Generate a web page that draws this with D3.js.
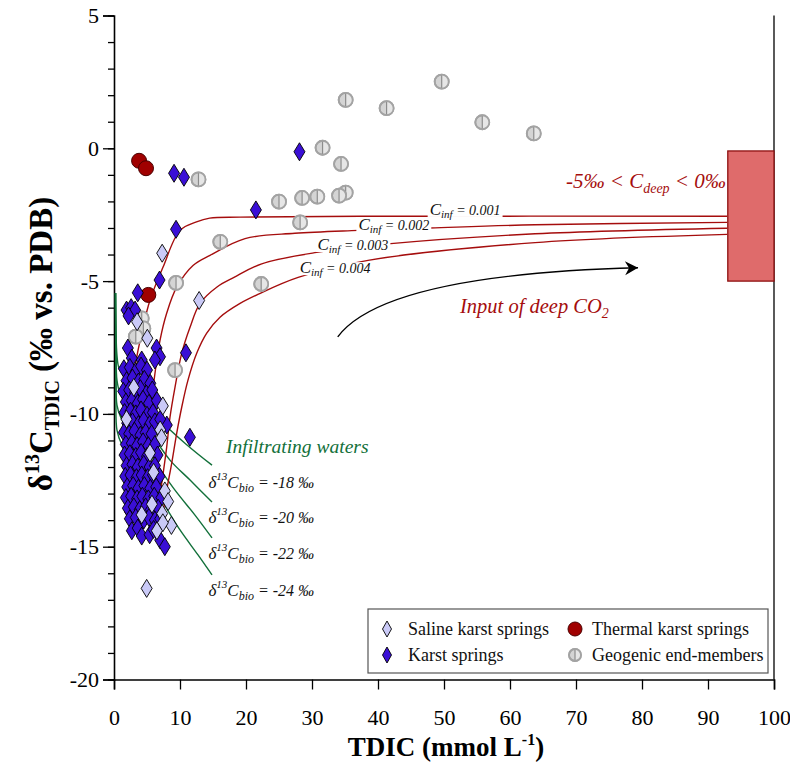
<!DOCTYPE html>
<html>
<head>
<meta charset="utf-8">
<script src="https://cdn.jsdelivr.net/npm/d3@7"></script>
<style>
  html, body { margin: 0; padding: 0; background: #fff; }
  svg { display: block; }
  svg text { font-family: "Liberation Serif", "Times New Roman", serif; }
</style>
</head>
<body>
<svg id="chart" width="790" height="769"></svg>
<script>
// ---- axis ticks ----
const xTicks = [0, 10, 20, 30, 40, 50, 60, 70, 80, 90, 100];
const yTicks = [-20, -15, -10, -5, 0, 5];
const yMinorTicks = d3.range(-20, 6, 1);

// ---- samples: [TDIC mmol/L, d13C permil] ----
const geogenic = [
  [49.65, 2.51], [35.1, 1.82], [41.3, 1.51], [55.8, 0.98], [63.6, 0.56],
  [31.6, 0.02], [34.4, -0.59], [12.8, -1.17], [35.1, -1.67], [34.1, -1.78],
  [30.8, -1.82], [28.5, -1.87], [25.0, -2.01], [28.2, -2.79], [16.1, -3.52],
  [9.4, -5.07], [22.3, -5.11], [4.2, -6.4], [4.45, -6.78], [3.3, -7.09], [9.25, -8.35]
];
const thermal = [[3.8, -0.47], [4.85, -0.75], [5.2, -5.52], [2.7, -13.6]];
const karst = [
  [28.1, -0.13], [9.1, -0.94], [10.6, -1.09], [21.5, -2.32], [9.4, -3.05],
  [6.9, -4.96], [3.6, -5.44], [1.9, -6.09], [2.6, -6.0], [3.2, -6.09], [2.2, -6.31],
  [10.9, -7.7], [11.5, -10.88], [8.0, -10.42],
  [2.1, -7.52], [4.2, -7.97], [2.7, -7.9], [6.45, -7.52], [6.97, -7.85], [6.2, -7.97],
  [1.5, -8.3], [2.4, -8.25], [3.3, -8.4], [4.1, -8.2], [5.0, -8.35],
  [1.9, -8.75], [2.8, -8.65], [3.7, -8.8], [4.6, -8.7], [5.5, -8.85],
  [1.4, -9.15], [2.3, -9.1], [3.2, -9.2], [4.0, -9.05], [4.9, -9.25], [5.8, -9.1],
  [1.8, -9.55], [2.7, -9.5], [3.6, -9.6], [4.4, -9.45], [5.3, -9.6], [6.5, -9.5],
  [1.6, -9.95], [2.5, -9.9], [3.3, -10.0], [4.1, -9.85], [5.0, -10.05], [5.9, -9.95],
  [2.0, -10.35], [2.8, -10.3], [3.7, -10.4], [4.5, -10.25], [5.4, -10.4], [6.2, -10.3], [7.0, -10.2],
  [1.5, -10.7], [2.3, -10.75], [3.1, -10.65], [4.0, -10.8], [4.8, -10.7], [5.7, -10.75],
  [1.8, -11.15], [2.7, -11.1], [3.5, -11.2], [4.4, -11.05], [5.2, -11.2], [6.2, -11.15],
  [1.6, -11.55], [2.4, -11.5], [3.3, -11.6], [4.1, -11.45], [5.0, -11.6], [6.6, -11.55],
  [1.9, -11.95], [2.8, -11.9], [3.6, -12.0], [4.5, -11.9], [5.4, -12.0], [6.2, -11.95],
  [1.7, -12.35], [2.5, -12.3], [3.4, -12.4], [4.2, -12.3], [5.1, -12.4], [5.9, -12.3], [6.9, -12.35],
  [2.0, -12.75], [2.9, -12.7], [3.7, -12.8], [4.6, -12.7], [5.5, -12.8], [6.4, -12.75],
  [1.8, -13.15], [2.6, -13.1], [3.5, -13.2], [4.3, -13.1], [5.2, -13.2], [6.1, -13.1], [7.2, -13.15],
  [2.1, -13.55], [3.0, -13.5], [3.9, -13.6], [4.8, -13.5], [5.6, -13.6], [6.7, -13.55],
  [2.4, -13.95], [3.3, -13.9], [4.5, -14.0], [5.3, -13.9], [6.2, -14.0], [7.0, -13.95],
  [2.7, -14.4], [3.6, -14.3], [4.2, -14.6], [5.4, -14.55], [6.0, -14.35], [7.0, -14.75], [7.7, -15.0]
];
const saline = [
  [7.3, -3.95], [12.9, -5.73], [3.5, -6.53], [5.05, -7.15], [4.95, -16.57],
  [3.0, -9.0], [7.4, -9.7], [1.9, -10.2], [7.0, -10.6], [7.2, -10.9], [5.45, -11.47],
  [6.0, -12.2], [7.7, -12.9], [8.2, -13.3], [5.75, -13.4], [7.3, -13.75], [4.2, -13.8],
  [8.7, -14.2], [7.4, -14.1], [6.5, -14.4]
];

// ---- mixing curves with deep CO2 (Cinf) ----
const cinfLabels = ["0.001", "0.002", "0.003", "0.004"];
const cinf1 = [[1.92, -11.67], [2.02, -10.73], [2.42, -9.49], [3.18, -8.21], [4.2, -6.96], [5.45, -5.72],
  [7.42, -4.48], [10.0, -3.09], [12.5, -2.77], [14.5, -2.63], [19.1, -2.59], [37.3, -2.56], [92.9, -2.56]];
const cinf2 = [[4.7, -13.63], [4.8, -11.37], [5.15, -10.5], [5.71, -9.49], [6.21, -8.47], [6.97, -7.23],
  [7.98, -6.21], [9.5, -5.23], [11.97, -4.41], [14.55, -4.03], [19.85, -3.4], [27.4, -3.2],
  [37.0, -3.09], [47.9, -3.0], [63.8, -2.88], [92.9, -2.79]];
const cinf3 = [[6.97, -13.06], [7.98, -11.26], [8.48, -10.13], [9.24, -9.0], [10.26, -7.72], [11.52, -6.74],
  [13.03, -5.84], [15.56, -5.23], [18.18, -4.86], [22.38, -4.35], [30.7, -3.92], [41.5, -3.6],
  [63.8, -3.22], [92.9, -3.01]];
const cinf4 = [[7.42, -13.74], [7.98, -12.88], [8.74, -11.86], [9.5, -10.73], [10.26, -9.75], [11.21, -8.73],
  [12.53, -7.72], [14.05, -6.96], [16.06, -6.36], [19.1, -5.84], [21.8, -5.5], [27.9, -4.86],
  [38.5, -4.22], [63.8, -3.55], [92.9, -3.24]];
const cinfCurves = [cinf1, cinf2, cinf3, cinf4];
// label centre x and baseline y
const cinfLabelAt = [[53.2, -2.51], [42.4, -3.08], [36.2, -3.83], [33.5, -4.7]];

// ---- infiltration curves (d13C of biogenic CO2) ----
const bioLabels = ["-18", "-20", "-22", "-24"];
const bio18 = [[0.23, -5.45], [0.3, -6.85], [0.45, -7.79], [0.76, -8.28], [1.82, -8.66], [3.94, -9.3],
  [6.97, -10.23], [11.06, -11.17], [14.85, -11.93]];
const bio20 = [[0.23, -5.45], [0.3, -7.6], [0.45, -8.73], [0.91, -9.22], [2.12, -9.66], [4.7, -10.42],
  [8.48, -11.74], [11.52, -12.49], [14.85, -13.32]];
const bio22 = [[0.23, -5.45], [0.3, -8.36], [0.45, -9.67], [1.06, -10.15], [2.42, -10.61], [5.45, -11.55],
  [9.24, -12.87], [12.27, -13.81], [14.85, -14.67]];
const bio24 = [[0.23, -5.45], [0.3, -9.1], [0.45, -10.61], [1.21, -11.17], [2.73, -11.74], [6.21, -12.87],
  [10.0, -14.37], [12.73, -15.31], [14.85, -16.06]];
const bioCurves = [bio18, bio20, bio22, bio24];
const bioLabelAt = [[14.3, -12.8], [14.3, -14.1], [14.3, -15.45], [14.3, -16.85]];

// ---- deep CO2 end-member range ----
const deepX = [93, 100];
const deepY = [-5, -0.1];
const deepArrow = [[33.9, -7.1], [41, -4.75], [79.4, -4.5]];

// ---- layout ----
const svg = d3.select("#chart");
const x = d3.scaleLinear().domain([0, 100]).range([114, 774]);
const y = d3.scaleLinear().domain([-20, 5]).range([679.5, 15.5]);

const darkRed = "#a50d0d";
const green = "#12703a";
const serif = '"Liberation Serif", "Times New Roman", serif';

// axes
const gx = svg.append("g").attr("transform", `translate(0,${y(-20)})`)
  .call(d3.axisBottom(x).tickValues(xTicks).tickSize(10).tickPadding(20).tickFormat(d => String(d)));
const gyMinor = svg.append("g").attr("transform", `translate(${x(0)},0)`)
  .call(d3.axisLeft(y).tickValues(yMinorTicks).tickSize(6).tickFormat(""));
const gy = svg.append("g").attr("transform", `translate(${x(0)},0)`)
  .call(d3.axisLeft(y).tickValues(yTicks).tickSize(11).tickPadding(4).tickFormat(d => String(d)));
[gx, gy, gyMinor].forEach(g => {
  g.attr("font-family", serif).attr("font-size", 22);
  g.select(".domain").attr("stroke", "#000").attr("stroke-width", 1.6);
  g.selectAll(".tick line").attr("stroke", "#000").attr("stroke-width", 1.3);
  g.selectAll("text").attr("font-family", serif).style("font-family", serif)
    .style("font-size", "22px").attr("fill", "#000");
});
gyMinor.select(".domain").remove();
// right frame line
svg.append("line").attr("x1", x(100)).attr("x2", x(100)).attr("y1", y(5)).attr("y2", y(-20))
  .attr("stroke", "#000").attr("stroke-width", 1.3);

// axis titles
svg.append("text").attr("x", 446).attr("y", 756).attr("text-anchor", "middle")
  .attr("font-size", 27).attr("font-weight", "bold")
  .call(t => {
    t.append("tspan").text("TDIC (mmol L");
    t.append("tspan").attr("font-size", 16).attr("dy", -11).text("-1");
    t.append("tspan").attr("dy", 11).text(")");
  });
svg.append("text").attr("transform", "translate(52,344) rotate(-90)").attr("text-anchor", "middle")
  .attr("font-size", 33).attr("font-weight", "bold")
  .call(t => {
    t.append("tspan").text("δ");
    t.append("tspan").attr("font-size", 20).attr("dy", -13).text("13");
    t.append("tspan").attr("dy", 13).text("C");
    t.append("tspan").attr("font-size", 20).attr("dy", 7).text("TDIC");
    t.append("tspan").attr("dy", -7).text(" (‰ vs. PDB)");
  });

const line = d3.line().x(d => x(d[0])).y(d => y(d[1])).curve(d3.curveCatmullRom.alpha(0.5));

// infiltration curves
svg.append("g").selectAll("path").data(bioCurves).join("path")
  .attr("d", line).attr("fill", "none").attr("stroke", green).attr("stroke-width", 1.4);

// deep CO2 mixing curves
svg.append("g").selectAll("path").data(cinfCurves).join("path")
  .attr("d", line).attr("fill", "none").attr("stroke", darkRed).attr("stroke-width", 1.4);

// deep CO2 box
svg.append("rect").attr("x", x(deepX[0])).attr("y", y(deepY[1]))
  .attr("width", x(deepX[1]) - x(deepX[0])).attr("height", y(deepY[0]) - y(deepY[1]))
  .attr("fill", "#df6b6b").attr("stroke", "#8e1010").attr("stroke-width", 1.3);

// Cinf labels: white backing first (interrupts the curves), text on top
const cinfBack = svg.append("g");
const cinfText = svg.append("g");
cinfLabels.forEach((lab, i) => {
  const t = cinfText.append("text").attr("x", x(cinfLabelAt[i][0])).attr("y", y(cinfLabelAt[i][1]))
    .attr("text-anchor", "middle").attr("font-size", 14).attr("font-style", "italic").attr("fill", "#111");
  t.append("tspan").attr("font-size", 17).text("C");
  t.append("tspan").attr("font-size", 11).attr("dy", 3).text("inf");
  t.append("tspan").attr("dy", -3).text(" = " + lab);
  const b = t.node().getBBox();
  cinfBack.append("rect").attr("x", b.x - 2).attr("y", b.y + 4).attr("width", b.width + 4)
    .attr("height", b.height - 7).attr("fill", "#fff");
});

// arrow for deep CO2 input
svg.append("defs").append("marker").attr("id", "arrowhead")
  .attr("viewBox", "-14 -8 16 16").attr("refX", 0).attr("refY", 0)
  .attr("markerWidth", 16).attr("markerHeight", 16).attr("markerUnits", "userSpaceOnUse")
  .attr("orient", "auto")
  .append("path").attr("d", "M0,0 L-13,-7 L-9,0 L-13,7 Z").attr("fill", "#000");
const ap = d3.path();
ap.moveTo(x(deepArrow[0][0]), y(deepArrow[0][1]));
ap.quadraticCurveTo(x(deepArrow[1][0]), y(deepArrow[1][1]), x(deepArrow[2][0]), y(deepArrow[2][1]));
svg.append("path").attr("d", ap.toString()).attr("fill", "none").attr("stroke", "#000")
  .attr("stroke-width", 1.4).attr("marker-end", "url(#arrowhead)");

// annotations
svg.append("text").attr("x", 460).attr("y", 313).attr("font-size", 20.5).attr("font-style", "italic")
  .attr("fill", darkRed)
  .call(t => {
    t.append("tspan").text("Input of deep CO");
    t.append("tspan").attr("font-size", 14).attr("dy", 5).text("2");
  });
svg.append("text").attr("x", 566).attr("y", 188).attr("font-size", 21).attr("font-style", "italic")
  .attr("fill", darkRed)
  .call(t => {
    t.append("tspan").text("-5‰ < C");
    t.append("tspan").attr("font-size", 14).attr("dy", 5).text("deep");
    t.append("tspan").attr("dy", -5).text(" < 0‰");
  });
svg.append("text").attr("x", 226).attr("y", 453).attr("font-size", 19.5).attr("font-style", "italic")
  .attr("fill", green).text("Infiltrating waters");

bioLabels.forEach((lab, i) => {
  const t = svg.append("text").attr("x", x(bioLabelAt[i][0])).attr("y", y(bioLabelAt[i][1]))
    .attr("font-size", 16).attr("font-style", "italic").attr("fill", "#111");
  t.append("tspan").attr("font-size", 17).text("δ");
  t.append("tspan").attr("font-size", 11).attr("dy", -8).text("13");
  t.append("tspan").attr("font-size", 17).attr("dy", 8).text("C");
  t.append("tspan").attr("font-size", 12).attr("dy", 4).text("bio");
  t.append("tspan").attr("dy", -4).text(" = " + lab + " ‰");
});

// ---- markers ----
const diamond = (cx, cy, w, h) => `M${cx},${cy - h}L${cx + w},${cy}L${cx},${cy + h}L${cx - w},${cy}Z`;

function geoMarker(g, cx, cy, r) {
  g.append("circle").attr("cx", cx).attr("cy", cy).attr("r", r)
    .attr("fill", "#d4d4d4").attr("stroke", "#a3a3a3").attr("stroke-width", 1.8);
  g.append("path").attr("d", `M${cx},${cy - r}A${r},${r} 0 0,1 ${cx},${cy + r}Z`)
    .attr("fill", "#e6e6e6").attr("stroke", "none");
  g.append("line").attr("x1", cx).attr("x2", cx).attr("y1", cy - r).attr("y2", cy + r)
    .attr("stroke", "#8c8c8c").attr("stroke-width", 1.2);
  g.append("circle").attr("cx", cx).attr("cy", cy).attr("r", r)
    .attr("fill", "none").attr("stroke", "#a3a3a3").attr("stroke-width", 1.8);
}

const gGeo = svg.append("g");
geogenic.forEach(d => geoMarker(gGeo, x(d[0]), y(d[1]), 7));

svg.append("g").selectAll("circle").data(thermal).join("circle")
  .attr("cx", d => x(d[0])).attr("cy", d => y(d[1])).attr("r", 7.5)
  .attr("fill", "#a00000").attr("stroke", "#4a0000").attr("stroke-width", 1);

svg.append("g").selectAll("path").data(karst).join("path")
  .attr("d", d => diamond(x(d[0]), y(d[1]), 5.5, 9))
  .attr("fill", "#3a0fd6").attr("stroke", "#000").attr("stroke-width", 0.9);

svg.append("g").selectAll("path").data(saline).join("path")
  .attr("d", d => diamond(x(d[0]), y(d[1]), 5.5, 9))
  .attr("fill", "#cacaf7").attr("stroke", "#000").attr("stroke-width", 0.9);

// ---- legend ----
const lg = svg.append("g");
lg.append("rect").attr("x", 368).attr("y", 609).attr("width", 400).attr("height", 64)
  .attr("fill", "#fff").attr("stroke", "#555").attr("stroke-width", 1.2);
const legendItems = [
  { label: "Saline karst springs", kind: "saline", lx: 387, ly: 629 },
  { label: "Thermal karst springs", kind: "thermal", lx: 575, ly: 629 },
  { label: "Karst springs", kind: "karst", lx: 387, ly: 655 },
  { label: "Geogenic end-members", kind: "geo", lx: 575, ly: 655 }
];
legendItems.forEach(it => {
  if (it.kind === "saline" || it.kind === "karst") {
    lg.append("path").attr("d", diamond(it.lx, it.ly, 4.5, 8))
      .attr("fill", it.kind === "saline" ? "#cacaf7" : "#3a0fd6").attr("stroke", "#000").attr("stroke-width", 0.9);
  } else if (it.kind === "thermal") {
    lg.append("circle").attr("cx", it.lx).attr("cy", it.ly).attr("r", 7)
      .attr("fill", "#a00000").attr("stroke", "#4a0000").attr("stroke-width", 1);
  } else {
    geoMarker(lg, it.lx, it.ly, 6);
  }
  lg.append("text").attr("x", it.lx + (it.kind === "saline" || it.kind === "karst" ? 21 : 17)).attr("y", it.ly + 6)
    .attr("font-size", 18).attr("fill", "#111").text(it.label);
});
</script>
</body>
</html>
